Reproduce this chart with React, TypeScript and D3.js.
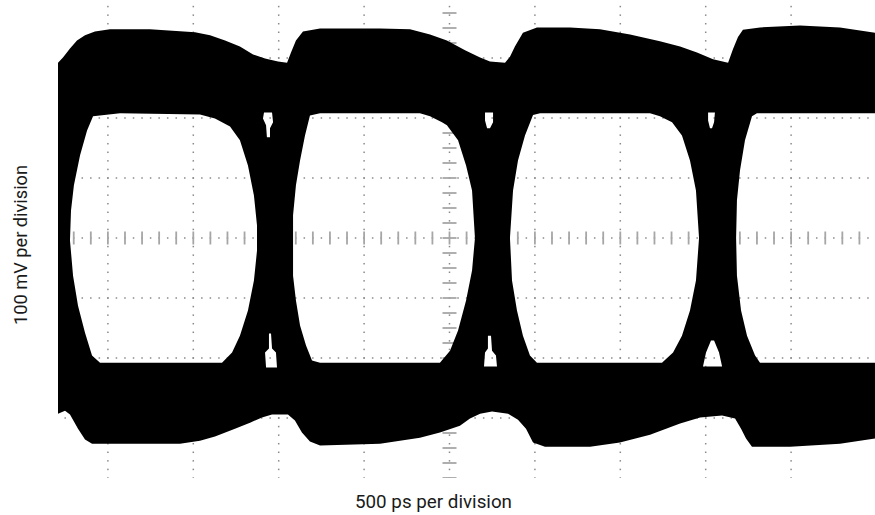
import React from 'react';
import * as d3 from 'd3';

const W = 875;
const H = 515;

// Scope settings: 500 ps / div horizontally (10 div), 100 mV / div vertically (8 div)
const timeDomain: [number, number] = [-2500, 2500];
const voltDomain: [number, number] = [-400, 400];
const visibleStart = -2292; // ps where the captured waveform starts
const timeGrid = [-2000, -1500, -1000, -500, 0, 500, 1000, 1500, 2000];
const voltGrid = [-300, -200, -100, 0, 100, 200, 300];
const xLabel = '500 ps per division';
const yLabel = '100 mV per division';

type P = [number, number];

// outer envelope of the eye (ps, mV)
const upperEnvelope: P[] = [
  [-2320, 292], [-2292, 292], [-2263, 301], [-2222, 316], [-2181, 329], [-2134, 338], [-2076, 344],
  [-1988, 348], [-1754, 348], [-1490, 343], [-1402, 338], [-1314, 329], [-1227, 319],
  [-1150, 306], [-1080, 299], [-1004, 294], [-951, 292], [-928, 309], [-899, 329],
  [-858, 344], [-758, 349], [-407, 349], [-231, 348], [-114, 339], [-15, 329], [91, 313],
  [179, 301], [237, 294], [325, 292], [354, 302], [383, 319], [430, 342], [512, 351],
  [706, 351], [881, 348], [1057, 339], [1232, 328], [1350, 319], [1449, 309], [1543, 298],
  [1631, 292], [1660, 315], [1689, 335], [1718, 347], [1818, 351], [2052, 354], [2286, 351],
  [2497, 342], [2560, 340],
];

const lowerEnvelope: P[] = [
  [-2320, -293], [-2292, -293], [-2251, -288], [-2222, -294], [-2175, -318], [-2134, -336], [-2093, -343],
  [-1578, -343], [-1461, -338], [-1373, -331], [-1256, -318], [-1168, -308], [-1098, -299],
  [-1039, -294], [-946, -294], [-905, -304], [-864, -324], [-817, -339], [-758, -346],
  [-407, -343], [-173, -333], [-56, -324], [61, -313], [120, -301], [179, -293], [249, -289],
  [343, -293], [401, -303], [448, -318], [489, -341], [559, -348], [823, -348], [998, -341],
  [1174, -328], [1350, -309], [1467, -299], [1596, -296], [1672, -301], [1707, -318],
  [1736, -334], [1771, -348], [1994, -348], [2286, -343], [2497, -334], [2560, -333],
];

// eye openings (white holes)
const eye1: P[] = [
  [-2087, 203], [-1929, 208], [-1461, 206], [-1373, 199], [-1285, 186], [-1227, 163],
  [-1180, 121], [-1145, 71], [-1127, 21], [-1127, -21], [-1145, -71], [-1180, -121],
  [-1227, -163], [-1273, -191], [-1332, -208], [-2046, -208], [-2093, -196], [-2134, -158],
  [-2175, -113], [-2204, -63], [-2222, -4], [-2216, 46], [-2199, 88], [-2163, 138], [-2122, 179],
];
const eye2: P[] = [
  [-817, 204], [-758, 208], [-173, 208], [-114, 203], [-44, 193], [-15, 188], [50, 163],
  [97, 121], [132, 79], [149, 0], [132, -54], [97, -104], [50, -154], [3, -188], [-56, -208],
  [-758, -208], [-805, -204], [-840, -179], [-875, -146], [-899, -104], [-916, -63],
  [-916, -13], [-916, 38], [-899, 88], [-875, 129], [-846, 171],
];
const eye3: P[] = [
  [489, 205], [530, 208], [1174, 208], [1232, 203], [1303, 193], [1361, 171], [1408, 129],
  [1443, 79], [1461, 0], [1443, -71], [1408, -121], [1361, -163], [1309, -191], [1244, -208],
  [512, -208], [471, -196], [430, -163], [395, -121], [366, -71], [354, 0], [372, 79],
  [401, 129], [442, 171],
];
const eye4: P[] = [
  [1771, 203], [1800, 208], [2530, 208], [2530, -208], [1818, -208], [1789, -196],
  [1742, -163], [1707, -121], [1683, -63], [1678, 0], [1683, 63], [1701, 113], [1730, 163],
];

// small gaps inside the crossing regions
const gap1Top: P[] = [[-1086, 209], [-1039, 209], [-1033, 193], [-1051, 183], [-1051, 168], [-1069, 168], [-1074, 188], [-1092, 199]];
const gap1Bottom: P[] = [[-1057, -159], [-1045, -159], [-1039, -184], [-1016, -191], [-1010, -216], [-1074, -216], [-1080, -191], [-1057, -184]];
const gap2Top: P[] = [[208, 209], [255, 209], [255, 193], [237, 183], [220, 183], [208, 196]];
const gap2Bottom: P[] = [[225, -163], [243, -163], [249, -188], [272, -196], [278, -214], [202, -214], [208, -191], [225, -184]];
const gap3Top: P[] = [[1514, 209], [1554, 209], [1549, 193], [1537, 183], [1525, 183], [1514, 196]];
const gap3Bottom: P[] = [[1531, -171], [1549, -171], [1578, -191], [1596, -214], [1484, -214], [1502, -191]];

const holes = [eye1, eye2, eye3, eye4, gap1Top, gap1Bottom, gap2Top, gap2Bottom, gap3Top, gap3Bottom];

export default function App() {
  const x = d3.scaleLinear().domain(timeDomain).range([22.5, 876.5]);
  const y = d3.scaleLinear().domain([voltDomain[1], voltDomain[0]]).range([-2, 478]);
  const line = d3.line<P>().x(d => x(d[0])).y(d => y(d[1]));

  const outer = [...upperEnvelope, ...lowerEnvelope.slice().reverse()];
  const d = [outer, ...holes].map(poly => line(poly) + 'Z').join(' ');

  const vDots = d3.range(0, 57).map(k => voltDomain[1] - (k * 100) / 7);
  const hDots = d3.range(timeDomain[0], timeDomain[1] + 1, 50);
  const hTicks = d3.range(timeDomain[0], timeDomain[1] + 1, 100);
  const vTicks = d3.range(voltDomain[0], voltDomain[1] + 1, 25);

  const left = x(visibleStart);
  const font = "Roboto, 'Liberation Sans', sans-serif";

  return (
    <svg width={W} height={H} style={{ position: 'absolute', left: 0, top: 0, background: '#fff' }}>
      <defs>
        <clipPath id="plot">
          <rect x={left} y={0} width={W - left} height={y(voltDomain[0])} />
        </clipPath>
      </defs>
      <rect width={W} height={H} fill="#fff" />
      <g clipPath="url(#plot)">
        <g fill="#8a8a8a">
          {timeGrid.map(t =>
            vDots.map((v, i) => (
              <rect key={`v${t}-${i}`} x={x(t) - 0.75} y={y(v) - 0.75} width={1.5} height={1.5} />
            ))
          )}
          {voltGrid.map(v =>
            hDots.map((t, i) => (
              <rect key={`h${v}-${i}`} x={x(t) - 0.75} y={y(v) - 0.75} width={1.5} height={1.5} />
            ))
          )}
        </g>
        <g stroke="#a6a6a6" strokeWidth={1.8}>
          {hTicks.map(t => (
            <line key={`ht${t}`} x1={x(t)} x2={x(t)} y1={y(0) - 6.5} y2={y(0) + 6.5} />
          ))}
          {vTicks.map(v => (
            <line key={`vt${v}`} x1={x(0) - 7} x2={x(0) + 7} y1={y(v)} y2={y(v)} />
          ))}
        </g>
        <path d={d} fill="#000" fillRule="evenodd" />
      </g>
      <text x={433.5} y={508} fontFamily={font} fontSize={18} fill="#1a1a1a" textAnchor="middle"
        textLength={157} lengthAdjust="spacingAndGlyphs">{xLabel}</text>
      <text transform="translate(26.5,245) rotate(-90)" fontFamily={font} fontSize={18} fill="#1a1a1a"
        textAnchor="middle" textLength={160} lengthAdjust="spacingAndGlyphs">{yLabel}</text>
    </svg>
  );
}
